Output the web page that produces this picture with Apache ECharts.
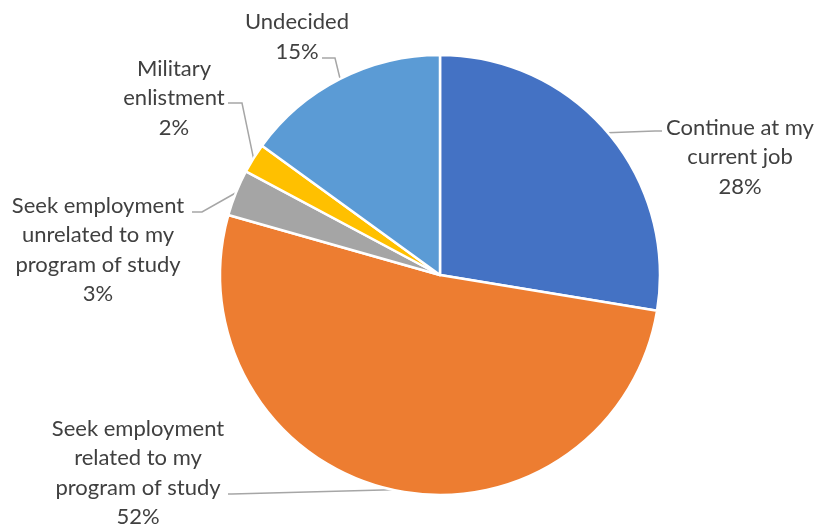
<!DOCTYPE html>
<html>
<head>
<meta charset="utf-8">
<script src="https://cdn.jsdelivr.net/npm/echarts@6/dist/echarts.min.js"></script>
<style>
html,body{margin:0;padding:0;background:#fff;}
#chart{width:817px;height:527px;}
</style>
</head>
<body>
<div id="chart"></div>
<script>
// ---- data ----
const categories = [
  'Continue at my current job',
  'Seek employment related to my program of study',
  'Seek employment unrelated to my program of study',
  'Military enlistment',
  'Undecided'
];
const labelLines = [
  'Continue at my\ncurrent job',
  'Seek employment\nrelated to my\nprogram of study',
  'Seek employment\nunrelated to my\nprogram of study',
  'Military\nenlistment',
  'Undecided'
];
const values = [27.6, 51.8, 3.4, 2.2, 15.0];
const colors = ['#4472C4', '#ED7D31', '#A5A5A5', '#FFC000', '#5B9BD5'];

// ---- label placement (style) ----
const labelCenters = [[740, 157], [138, 473], [98, 250], [174, 98], [297, 37]];
const leaderTails = [
  [[655, 131], [662, 131]],
  [[232, 494], [228, 494]],
  [[202, 212], [192, 212]],
  [[242, 103], [228, 103]],
  [[335, 58], [322, 58]]
];

const chart = echarts.init(document.getElementById('chart'), null, {renderer: 'canvas'});
chart.setOption({
  backgroundColor: '#ffffff',
  animation: false,
  series: [{
    type: 'pie',
    center: [440, 275],
    radius: 220,
    startAngle: 90,
    clockwise: true,
    avoidLabelOverlap: false,
    data: categories.map((c, i) => ({
      name: c,
      value: values[i],
      itemStyle: {color: colors[i]}
    })),
    itemStyle: {borderColor: '#ffffff', borderWidth: 2.5},
    label: {
      show: true,
      position: 'outside',
      formatter: p => labelLines[p.dataIndex] + '\n' + p.percent.toFixed(0) + '%',
      fontFamily: 'Lato',
      fontSize: 22,
      lineHeight: 29.5,
      color: '#404040',
      align: 'center'
    },
    labelLine: {
      show: true,
      lineStyle: {color: '#A6A6A6', width: 1.5}
    },
    labelLayout: function (params) {
      const i = params.dataIndex;
      const start = params.labelLinePoints ? params.labelLinePoints[0] : [440, 275];
      return {
        x: labelCenters[i][0],
        y: labelCenters[i][1],
        align: 'center',
        verticalAlign: 'middle',
        labelLinePoints: [start, leaderTails[i][0], leaderTails[i][1]]
      };
    }
  }]
});
</script>
</body>
</html>
